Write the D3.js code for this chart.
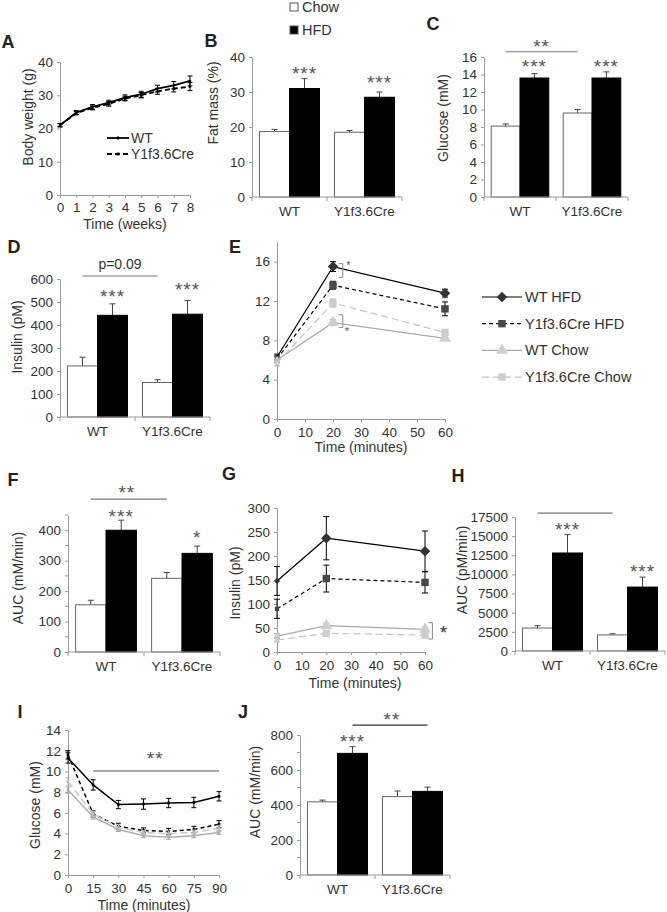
<!DOCTYPE html>
<html><head><meta charset="utf-8">
<script src="https://cdn.jsdelivr.net/npm/d3@7"></script>
<style>
body{margin:0;background:#fff}
svg{display:block}
text{font-family:"Liberation Sans",Arial,sans-serif}
</style>
</head><body>
<svg id="c" width="667" height="912"></svg>
<script>
// ---------------- DATA ----------------
const groups = ["WT", "Y1f3.6Cre"];
const diets = ["Chow", "HFD"];

// A: body weight
const weeks = [0, 1, 2, 3, 4, 5, 6, 7, 8];
const bwWT = [21.0, 24.8, 26.5, 27.8, 29.3, 30.3, 32.0, 33.0, 34.3];
const bwWTErr = [0.5, 0.6, 0.7, 0.7, 0.8, 0.9, 1.0, 1.1, 1.5];
const bwCre = [21.0, 24.6, 26.2, 27.4, 29.0, 30.0, 31.2, 32.0, 32.6];
const bwCreErr = [0.5, 0.5, 0.6, 0.7, 0.7, 0.8, 0.9, 1.0, 1.2];
const bwYTicks = [0, 10, 20, 30, 40];

// B: fat mass (%)
const fatChow = [18.7, 18.5], fatChowErr = [0.6, 0.5];
const fatHFD = [31.0, 28.5], fatHFDErr = [2.8, 1.5];
const fatTicks = [0, 10, 20, 30, 40];

// C: glucose (mM)
const gluChow = [8.1, 9.6], gluChowErr = [0.25, 0.4];
const gluHFD = [13.6, 13.6], gluHFDErr = [0.5, 0.7];
const gluTicks = [0, 2, 4, 6, 8, 10, 12, 14, 16];

// D: insulin (pM)
const insChow = [222, 150], insChowErr = [38, 12];
const insHFD = [442, 447], insHFDErr = [50, 60];
const insTicks = [0, 100, 200, 300, 400, 500, 600];

// E: glucose tolerance (mM)
const gttTime = [0, 20, 60];
const gttWTHFD = [6.3, 15.5, 12.8], gttWTHFDErr = [0.3, 0.5, 0.4];
const gttCreHFD = [6.1, 13.6, 11.2], gttCreHFDErr = [0.3, 0.4, 0.7];
const gttWTChow = [6.0, 9.8, 8.2], gttWTChowErr = [0.3, 0.3, 0.2];
const gttCreChow = [5.7, 11.8, 8.8], gttCreChowErr = [0.3, 0.4, 0.3];
const gttYTicks = [0, 4, 8, 12, 16];
const minTicks60 = [0, 10, 20, 30, 40, 50, 60];
const seriesNames = ["WT HFD", "Y1f3.6Cre HFD", "WT Chow", "Y1f3.6Cre Chow"];

// F: AUC glucose (mM/min)
const aucGChow = [155, 242], aucGChowErr = [15, 19];
const aucGHFD = [400, 324], aucGHFDErr = [33, 24];
const aucGTicks = [0, 100, 200, 300, 400];

// G: insulin during GTT (pM)
const gInsWTHFD = [148, 237, 210], gInsWTHFDErr = [30, 45, 42];
const gInsCreHFD = [90, 153, 145], gInsCreHFDErr = [20, 28, 22];
const gInsWTChow = [33, 55, 47], gInsWTChowErr = [5, 5, 5];
const gInsCreChow = [25, 39, 35], gInsCreChowErr = [4, 4, 4];
const gInsTicks = [0, 50, 100, 150, 200, 250, 300];

// H: AUC insulin (pM/min)
const aucIChow = [3000, 2100], aucIChowErr = [300, 150];
const aucIHFD = [12800, 8350], aucIHFDErr = [2400, 1300];
const aucITicks = [0, 2500, 5000, 7500, 10000, 12500, 15000, 17500];

// I: insulin tolerance (mM)
const ittTime = [0, 15, 30, 45, 60, 75, 90];
const ittWTHFD = [11.3, 8.7, 6.8, 6.85, 6.95, 7.0, 7.6], ittWTHFDErr = [0.5, 0.5, 0.4, 0.5, 0.45, 0.5, 0.45];
const ittCreHFD = [11.6, 5.9, 4.7, 4.3, 4.2, 4.4, 4.9], ittCreHFDErr = [0.4, 0.3, 0.3, 0.25, 0.3, 0.3, 0.35];
const ittWTChow = [8.2, 5.6, 4.4, 3.8, 3.65, 3.8, 4.1], ittWTChowErr = [0.3, 0.2, 0.2, 0.2, 0.2, 0.2, 0.2];
const ittCreChow = [9.0, 5.9, 4.6, 4.1, 4.0, 4.1, 4.5], ittCreChowErr = [0.4, 0.25, 0.25, 0.2, 0.25, 0.25, 0.3];
const ittYTicks = [0, 2, 4, 6, 8, 10, 12, 14];
const ittXTicks = [0, 15, 30, 45, 60, 75, 90];

// J: AUC ITT (mM/min)
const aucTChow = [418, 448], aucTChowErr = [10, 32];
const aucTHFD = [695, 478], aucTHFDErr = [38, 24];
const aucTTicks = [0, 200, 400, 600, 800];

// ---------------- DRAWING ----------------
const svg = d3.select("#c");
const AX = "#9a9a9a", TXT = "#333", TICKF = "13.5px", TITLEF = "14px";

function styleAxis(g) {
  g.select(".domain").attr("stroke", AX);
  g.selectAll(".tick line").attr("stroke", AX);
  g.selectAll(".tick text").attr("fill", TXT).style("font-size", TICKF)
    .style("font-family", '"Liberation Sans",Arial,sans-serif');
}
function letter(t, x, y) {
  svg.append("text").attr("x", x).attr("y", y).attr("text-anchor", "middle")
    .attr("dominant-baseline", "central").style("font-size", "18px").style("font-weight", "bold")
    .attr("fill", "#222").text(t);
}
function yTitle(t, x, y) {
  svg.append("text").attr("transform", `translate(${x},${y}) rotate(-90)`).attr("text-anchor", "middle")
    .attr("dominant-baseline", "central").style("font-size", TITLEF).attr("fill", TXT).text(t);
}
function txt(t, x, y, size, color) {
  return svg.append("text").attr("x", x).attr("y", y).attr("text-anchor", "middle")
    .attr("dominant-baseline", "central").style("font-size", size || TITLEF).attr("fill", color || TXT).text(t);
}
function star(t, x, y, size) {
  return svg.append("text").attr("x", x).attr("y", y + 4).attr("text-anchor", "middle")
    .attr("dominant-baseline", "central").style("font-size", size || "19px").style("letter-spacing", "1px")
    .attr("fill", "#555").text(t);
}
function hline(x1, x2, y, c) {
  svg.append("line").attr("x1", x1).attr("x2", x2).attr("y1", y).attr("y2", y).attr("stroke", c || "#777").attr("stroke-width", 1.2);
}

function barPanel(o) {
  const x = d3.scaleBand().domain(groups).range(o.xr);
  const xi = d3.scaleBand().domain(diets).range([0, x.bandwidth()]).paddingOuter(0.25);
  const y = d3.scaleLinear().domain(o.domain).range(o.yr);
  const g = svg.append("g");
  const rows = groups.flatMap((gr, i) => [
    { g: gr, d: "Chow", v: o.chow[i], e: o.chowErr[i] },
    { g: gr, d: "HFD", v: o.hfd[i], e: o.hfdErr[i] }]);
  const ya = g.append("g").attr("transform", `translate(${o.xr[0]},0)`)
    .call(d3.axisLeft(y).tickValues(o.ticks).tickSize(3).tickSizeOuter(0).tickPadding(4).tickFormat(d3.format("d")));
  styleAxis(ya);
  if (o.minor) {
    g.selectAll(".mn").data(o.minor).join("line").attr("x1", o.xr[0] - 3).attr("x2", o.xr[0])
      .attr("y1", d => y(d)).attr("y2", d => y(d)).attr("stroke", AX);
  }
  const eb = g.selectAll(".eb").data(rows).join("g");
  eb.append("line").attr("x1", d => x(d.g) + xi(d.d) + xi.bandwidth() / 2).attr("x2", d => x(d.g) + xi(d.d) + xi.bandwidth() / 2)
    .attr("y1", d => y(d.v)).attr("y2", d => y(d.v + d.e)).attr("stroke", "#444");
  eb.append("line").attr("x1", d => x(d.g) + xi(d.d) + xi.bandwidth() / 2 - 3).attr("x2", d => x(d.g) + xi(d.d) + xi.bandwidth() / 2 + 3)
    .attr("y1", d => y(d.v + d.e)).attr("y2", d => y(d.v + d.e)).attr("stroke", "#444");
  g.selectAll(".bar").data(rows).join("rect")
    .attr("x", d => x(d.g) + xi(d.d)).attr("width", xi.bandwidth())
    .attr("y", d => y(d.v)).attr("height", d => y(0) - y(d.v))
    .attr("fill", d => d.d === "HFD" ? "#000" : "#fff")
    .attr("stroke", d => d.d === "HFD" ? "#000" : "#666").attr("stroke-width", 1);
  const y0 = y(0);
  g.append("line").attr("x1", o.xr[0]).attr("x2", o.xr[1]).attr("y1", y0).attr("y2", y0).attr("stroke", AX);
  const bounds = [o.xr[0], o.xr[0] + x.bandwidth(), o.xr[1]];
  g.selectAll(".bt").data(bounds).join("line").attr("x1", d => d).attr("x2", d => d)
    .attr("y1", y0).attr("y2", y0 + 4).attr("stroke", AX);
  g.selectAll(".xl").data(groups).join("text").attr("x", d => x(d) + x.bandwidth() / 2).attr("y", y0 + 14)
    .attr("text-anchor", "middle").attr("dominant-baseline", "central").style("font-size", TICKF).attr("fill", TXT).text(d => d);
  return { x, xi, y, cx: (gr, d) => x(gr) + xi(d) + xi.bandwidth() / 2 };
}

const styles = [
  { stroke: "#000", dash: null, sym: "diamond", fill: "#333", eb: "#000" },
  { stroke: "#000", dash: "4,3", sym: "square", fill: "#484848", eb: "#000" },
  { stroke: "#aaa", dash: null, sym: "triangle", fill: "#cfcfcf", eb: "#999" },
  { stroke: "#c4c4c4", dash: "7,4", sym: "square", fill: "#cdcdcd", eb: "#aaa" }
];
function marker(sel, sym, size) {
  if (sym === "diamond") {
    sel.append("path").attr("d", d3.symbol(d3.symbolSquare, size)()).attr("transform", "rotate(45)");
  } else if (sym === "triangle") {
    sel.append("path").attr("d", d3.symbol(d3.symbolTriangle, size * 1.1)());
  } else {
    sel.append("path").attr("d", d3.symbol(d3.symbolSquare, size)());
  }
}

function linePanel(o) {
  const x = d3.scaleLinear().domain(o.xdom).range(o.xr);
  const y = d3.scaleLinear().domain(o.ydom).range(o.yr);
  const g = svg.append("g");
  const ya = g.append("g").attr("transform", `translate(${o.xr[0]},0)`)
    .call(d3.axisLeft(y).tickValues(o.yticks).tickSize(3).tickSizeOuter(0).tickPadding(4).tickFormat(d3.format("d")));
  styleAxis(ya);
  const xa = g.append("g").attr("transform", `translate(0,${y(0)})`)
    .call(d3.axisBottom(x).tickValues(o.xticks).tickSize(3).tickSizeOuter(0).tickPadding(4).tickFormat(d3.format("d")));
  styleAxis(xa);
  xa.selectAll(".tick text").attr("dy", null).attr("y", 13).attr("dominant-baseline", "central");
  o.series.forEach((s, si) => {
    const st = o.styles[si];
    const pts = o.t.map((t, i) => ({ t, v: s.v[i], e: s.e[i] }));
    const eb = g.append("g").attr("stroke", st.eb).attr("stroke-width", 1);
    pts.forEach(p => {
      eb.append("line").attr("x1", x(p.t)).attr("x2", x(p.t)).attr("y1", y(p.v - p.e)).attr("y2", y(p.v + p.e));
      [p.v - p.e, p.v + p.e].forEach(vv => eb.append("line").attr("x1", x(p.t) - o.cap).attr("x2", x(p.t) + o.cap).attr("y1", y(vv)).attr("y2", y(vv)));
    });
    g.append("path").datum(pts).attr("fill", "none").attr("stroke", st.stroke).attr("stroke-width", o.lw || 1.2)
      .attr("stroke-dasharray", st.dash).attr("d", d3.line().x(d => x(d.t)).y(d => y(d.v)));
    pts.forEach((p, i) => {
      const m = g.append("g").attr("transform", `translate(${x(p.t)},${y(p.v)})`).attr("fill", st.fill);
      marker(m, st.sym, i === 0 && o.firstSmall ? o.msize * 0.35 : o.msize);
    });
  });
  return { x, y };
}

// ---------- A ----------
letter("A", 8, 42);
(function () {
  const x = d3.scaleLinear().domain([0, 8]).range([60, 190]);
  const y = d3.scaleLinear().domain([0, 40]).range([195, 62]);
  const g = svg.append("g");
  styleAxis(g.append("g").attr("transform", "translate(60,0)")
    .call(d3.axisLeft(y).tickValues(bwYTicks).tickSize(3).tickSizeOuter(0).tickPadding(4)));
  const xa = g.append("g").attr("transform", `translate(0,${y(0)})`)
    .call(d3.axisBottom(x).tickValues(weeks).tickSize(3).tickSizeOuter(0).tickPadding(4));
  styleAxis(xa);
  xa.selectAll(".tick text").attr("dy", null).attr("y", 12).attr("dominant-baseline", "central");
  const sets = [[bwWT, bwWTErr, null, "diamond"], [bwCre, bwCreErr, "5,3", "square"]];
  sets.forEach(([v, e, dash, sym]) => {
    const pts = weeks.map((w, i) => ({ w, v: v[i], e: e[i] }));
    pts.forEach(p => {
      g.append("line").attr("x1", x(p.w)).attr("x2", x(p.w)).attr("y1", y(p.v - p.e)).attr("y2", y(p.v + p.e)).attr("stroke", "#000");
      [p.v - p.e, p.v + p.e].forEach(vv => g.append("line").attr("x1", x(p.w) - 2.5).attr("x2", x(p.w) + 2.5).attr("y1", y(vv)).attr("y2", y(vv)).attr("stroke", "#000"));
    });
    g.append("path").datum(pts).attr("fill", "none").attr("stroke", "#000").attr("stroke-width", 1.8)
      .attr("stroke-dasharray", dash).attr("d", d3.line().x(d => x(d.w)).y(d => y(d.v)));
    pts.forEach(p => marker(g.append("g").attr("transform", `translate(${x(p.w)},${y(p.v)})`).attr("fill", "#000"), sym, 5));
  });
  const lg = [["WT", null, "diamond"], ["Y1f3.6Cre", "5,3", "square"]];
  lg.forEach(([t, dash, sym], i) => {
    const yy = 138 + i * 16;
    g.append("line").attr("x1", 107).attr("x2", 129).attr("y1", yy).attr("y2", yy).attr("stroke", "#000").attr("stroke-width", 1.8).attr("stroke-dasharray", dash);
    marker(g.append("g").attr("transform", `translate(118,${yy})`).attr("fill", "#000"), sym, 8);
    g.append("text").attr("x", 131).attr("y", yy).attr("dominant-baseline", "central").style("font-size", TITLEF).attr("fill", TXT).text(t);
  });
  yTitle("Body weight (g)", 28, 117);
  txt("Time (weeks)", 125, 224);
})();

// ---------- legend Chow / HFD ----------
diets.forEach((d, i) => {
  const yy = 7 + i * 23;
  svg.append("rect").attr("x", 290).attr("y", yy - 4).attr("width", 8).attr("height", 8)
    .attr("fill", d === "HFD" ? "#000" : "#fff").attr("stroke", "#555");
  svg.append("text").attr("x", 302).attr("y", yy).attr("dominant-baseline", "central").style("font-size", "14.5px").attr("fill", TXT).text(d);
});

// ---------- B ----------
letter("B", 211, 41);
(function () {
  const p = barPanel({ xr: [252, 402], yr: [197, 57], domain: [0, 40], ticks: fatTicks, chow: fatChow, chowErr: fatChowErr, hfd: fatHFD, hfdErr: fatHFDErr });
  star("***", p.cx("WT", "HFD"), p.y(36.3));
  star("***", p.cx("Y1f3.6Cre", "HFD"), p.y(34));
  yTitle("Fat mass (%)", 213, 103);
})();

// ---------- C ----------
letter("C", 433, 24);
(function () {
  const p = barPanel({ xr: [484, 628], yr: [197, 57], domain: [0, 16], ticks: gluTicks, chow: gluChow, chowErr: gluChowErr, hfd: gluHFD, hfdErr: gluHFDErr });
  hline(p.cx("WT", "Chow"), p.cx("Y1f3.6Cre", "Chow"), p.y(16.6));
  star("**", (p.cx("WT", "Chow") + p.cx("Y1f3.6Cre", "Chow")) / 2, p.y(17.7));
  star("***", p.cx("WT", "HFD"), p.y(15.4));
  star("***", p.cx("Y1f3.6Cre", "HFD"), p.y(15.4));
  yTitle("Glucose (mM)", 443, 118);
})();

// ---------- D ----------
letter("D", 14, 247);
(function () {
  const p = barPanel({ xr: [60, 210], yr: [417, 279], domain: [0, 600], ticks: insTicks, chow: insChow, chowErr: insChowErr, hfd: insHFD, hfdErr: insHFDErr });
  hline(p.cx("WT", "Chow"), p.cx("Y1f3.6Cre", "Chow"), p.y(613));
  txt("p=0.09", (p.cx("WT", "Chow") + p.cx("Y1f3.6Cre", "Chow")) / 2, p.y(665), TITLEF);
  star("***", p.cx("WT", "HFD"), p.y(543));
  star("***", p.cx("Y1f3.6Cre", "HFD"), p.y(570));
  yTitle("Insulin (pM)", 17, 337);
})();

// ---------- E ----------
letter("E", 235, 247);
(function () {
  const p = linePanel({
    xr: [277, 445], yr: [419, 242], xdom: [0, 60], ydom: [0, 18], yticks: gttYTicks, xticks: minTicks60,
    t: gttTime, styles, cap: 3, msize: 55, lw: 1.2, firstSmall: true,
    series: [{ v: gttWTHFD, e: gttWTHFDErr }, { v: gttCreHFD, e: gttCreHFDErr }, { v: gttWTChow, e: gttWTChowErr }, { v: gttCreChow, e: gttCreChowErr }]
  });
  [[15.8, 14.4], [10.6, 9.3]].forEach(([a, b]) => {
    const bx = p.x(23.5);
    svg.append("path").attr("d", `M${bx - 4},${p.y(a)}H${bx}V${p.y(b)}H${bx - 4}`).attr("fill", "none").attr("stroke", "#888");
  });
  txt("*", p.x(25.5), p.y(15.7), "11px", "#555");
  txt("*", p.x(25), p.y(9.0), "11px", "#555");
  txt("Time (minutes)", 361, 447);
  seriesNames.forEach((n, i) => {
    const st = styles[i], yy = 297 + i * 26.7;
    svg.append("line").attr("x1", 482).attr("x2", 522).attr("y1", yy).attr("y2", yy).attr("stroke", st.stroke)
      .attr("stroke-width", 1.2).attr("stroke-dasharray", st.dash);
    marker(svg.append("g").attr("transform", `translate(502,${yy})`).attr("fill", st.fill), st.sym, 55);
    svg.append("text").attr("x", 525).attr("y", yy).attr("dominant-baseline", "central").style("font-size", "14.5px").attr("fill", TXT).text(n);
  });
})();

// ---------- F ----------
letter("F", 13, 480);
(function () {
  const p = barPanel({ xr: [68, 220], yr: [652, 515], domain: [0, 450], ticks: aucGTicks, minor: [50, 150, 250, 350, 450], chow: aucGChow, chowErr: aucGChowErr, hfd: aucGHFD, hfdErr: aucGHFDErr });
  hline(p.cx("WT", "Chow"), p.cx("Y1f3.6Cre", "Chow"), p.y(502));
  star("**", (p.cx("WT", "Chow") + p.cx("Y1f3.6Cre", "Chow")) / 2 - 2, p.y(538));
  star("***", p.cx("WT", "HFD"), p.y(459));
  star("*", p.cx("Y1f3.6Cre", "HFD"), p.y(390));
  yTitle("AUC (mM/min)", 18, 578);
})();

// ---------- G ----------
letter("G", 229, 474);
(function () {
  const p = linePanel({
    xr: [277, 425], yr: [652, 508], xdom: [0, 60], ydom: [0, 300], yticks: gInsTicks, xticks: minTicks60,
    t: gttTime, styles, cap: 3, msize: 55, lw: 1.2, firstSmall: true,
    series: [{ v: gInsWTHFD, e: gInsWTHFDErr }, { v: gInsCreHFD, e: gInsCreHFDErr }, { v: gInsWTChow, e: gInsWTChowErr }, { v: gInsCreChow, e: gInsCreChowErr }]
  });
  const bx = p.x(63);
  svg.append("path").attr("d", `M${bx - 4},${p.y(61)}H${bx}V${p.y(27)}H${bx - 4}`).attr("fill", "none").attr("stroke", "#888");
  txt("*", p.x(67.5), p.y(40), "19px", "#333");
  yTitle("Insulin (pM)", 235, 583);
  txt("Time (minutes)", 355, 683);
})();

// ---------- H ----------
letter("H", 458, 476);
(function () {
  const p = barPanel({ xr: [515, 665], yr: [651, 517], domain: [0, 17500], ticks: aucITicks, chow: aucIChow, chowErr: aucIChowErr, hfd: aucIHFD, hfdErr: aucIHFDErr });
  hline(p.cx("WT", "Chow"), p.cx("Y1f3.6Cre", "Chow"), p.y(18000));
  star("***", p.cx("WT", "HFD"), p.y(16450));
  star("***", p.cx("Y1f3.6Cre", "HFD"), p.y(10970));
  yTitle("AUC (pM/min)", 462, 570);
})();

// ---------- I ----------
letter("I", 20, 712);
(function () {
  const iStyles = [
    { stroke: "#000", dash: null, sym: "square", fill: "#000", eb: "#000" },
    { stroke: "#000", dash: "4,3", sym: "square", fill: "#000", eb: "#000" },
    { stroke: "#b0b0b0", dash: null, sym: "square", fill: "#aaa", eb: "#aaa" },
    { stroke: "#c8c8c8", dash: "7,4", sym: "square", fill: "#bbb", eb: "#bbb" }
  ];
  const p = linePanel({
    xr: [68, 219], yr: [875, 730], xdom: [0, 90], ydom: [0, 14], yticks: ittYTicks, xticks: ittXTicks,
    t: ittTime, styles: iStyles, cap: 2.5, msize: 7, lw: 1.5,
    series: [{ v: ittWTHFD, e: ittWTHFDErr }, { v: ittCreHFD, e: ittCreHFDErr }, { v: ittWTChow, e: ittWTChowErr }, { v: ittCreChow, e: ittCreChowErr }]
  });
  hline(p.x(15), p.x(90), p.y(10.04), "#555");
  star("**", p.x(52), p.y(11.6));
  yTitle("Glucose (mM)", 35, 805);
  txt("Time (minutes)", 144, 905);
})();

// ---------- J ----------
letter("J", 243, 712);
(function () {
  const p = barPanel({ xr: [300, 450], yr: [875, 735], domain: [0, 800], ticks: aucTTicks, minor: [100, 300, 500, 700], chow: aucTChow, chowErr: aucTChowErr, hfd: aucTHFD, hfdErr: aucTHFDErr });
  hline(p.cx("WT", "HFD"), p.cx("Y1f3.6Cre", "HFD"), p.y(857), "#333");
  star("**", (p.cx("WT", "HFD") + p.cx("Y1f3.6Cre", "HFD")) / 2 + 2, p.y(914));
  star("***", p.cx("WT", "HFD"), p.y(783));
  yTitle("AUC (mM/min)", 255, 792);
})();
</script>
</body></html>
